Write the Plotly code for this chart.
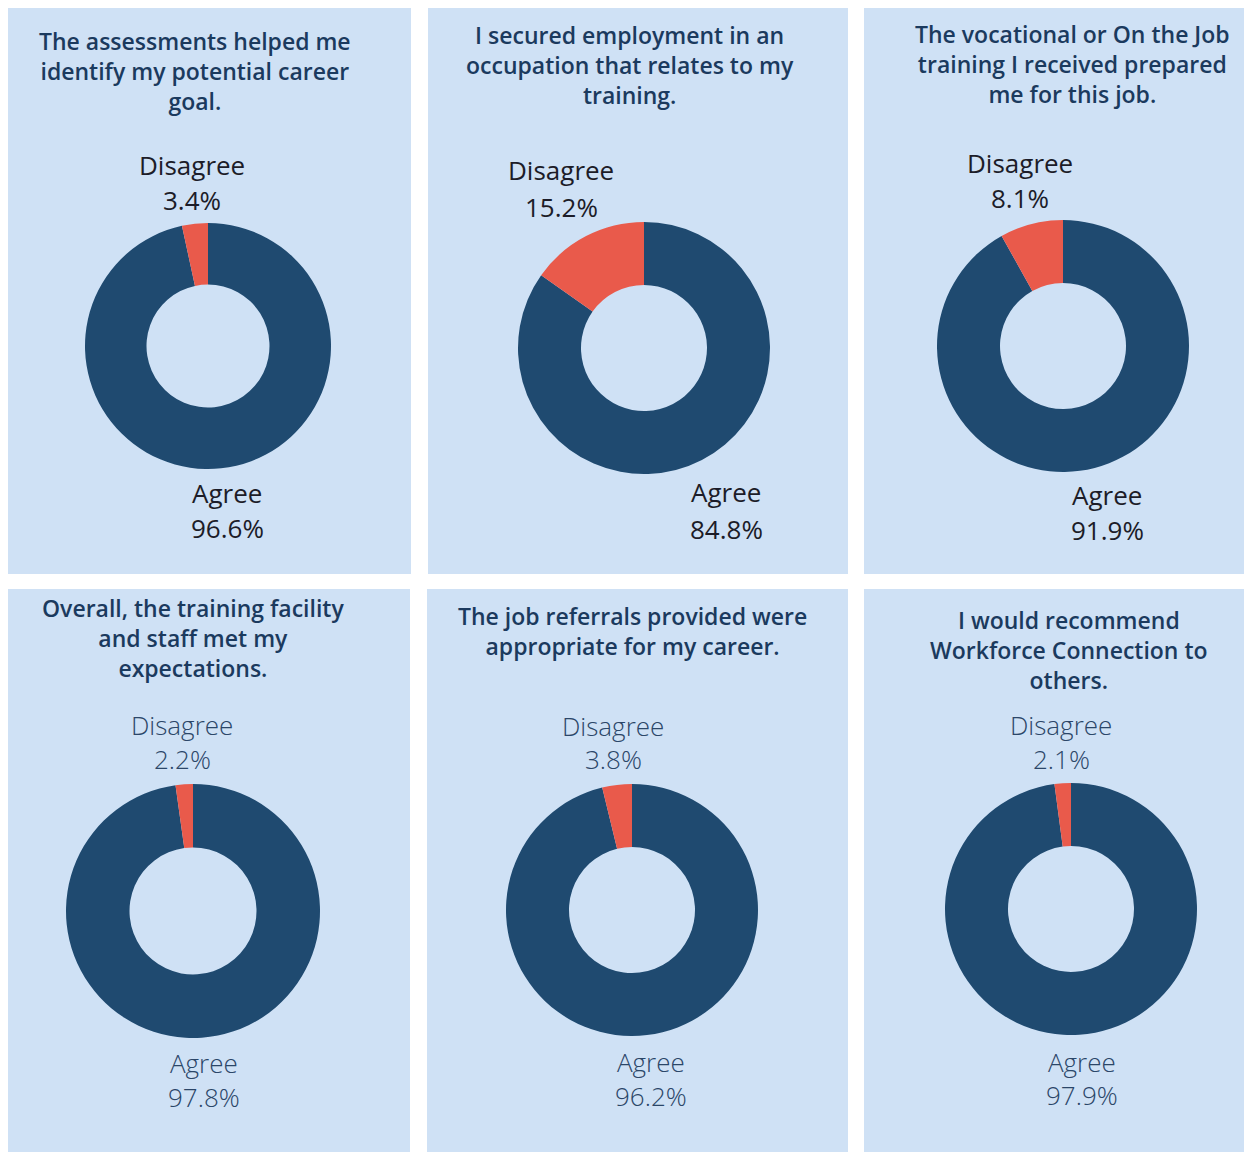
import plotly.graph_objects as go

OFF = 8  # browser body margin
W, H = 1252 - OFF, 1154 - OFF

titles = [
    "The assessments helped me<br>identify my potential career<br>goal.",
    "I secured employment in an<br>occupation that relates to my<br>training.",
    "The vocational or On the Job<br>training I received prepared<br>me for this job.",
    "Overall, the training facility<br>and staff met my<br>expectations.",
    "The job referrals provided were<br>appropriate for my career.",
    "I would recommend<br>Workforce Connection to<br>others.",
]
categories = ["Agree", "Disagree"]
agree_pct = [96.6, 84.8, 91.9, 97.8, 96.2, 97.9]
disagree_pct = [3.4, 15.2, 8.1, 2.2, 3.8, 2.1]

# layout geometry (reference pixels)
panels = [(8, 7, 411, 574), (428, 7, 848, 574), (864, 7, 1250, 574),
          (8, 589, 410, 1152), (427, 589, 848, 1152), (864, 589, 1250, 1152)]
centers = [(208, 346, 123), (644, 348, 126), (1063, 346, 126),
           (193, 911, 127), (632, 910, 126), (1071, 909, 126)]
title_pos = [(195, 71), (630, 65), (1072, 64), (193, 638), (632, 631), (1069, 650)]
# (x, label_y, value_y) for Disagree and Agree labels
dis_lab = [(192, 165, 200), (561, 170, 207), (1020, 163, 198),
           (182, 725, 759), (613, 726, 759), (1061, 725, 759)]
agr_lab = [(227, 493, 528), (726, 492, 529), (1107, 495, 530),
           (204, 1063, 1097), (651, 1062, 1096), (1082, 1062, 1095)]

NAVY = "#1f4a70"
RED = "#e95a4b"
BG = "#cfe1f5"
TITLE_C = "#1b3a5e"
FONT = "Open Sans, Lato, sans-serif"


def px(x):
    return (x - OFF) / W


def py(y):
    return 1 - (y - OFF) / H


fig = go.Figure()
shapes = []
annotations = []


def ann(text, x, y, size, color, weight=None):
    f = dict(family=FONT, size=size, color=color)
    if weight:
        f["weight"] = weight
    annotations.append(dict(text=text, xref="paper", yref="paper", x=px(x), y=py(y),
                            xanchor="center", yanchor="middle", showarrow=False,
                            align="center", font=f))


for i in range(6):
    x0, y0, x1, y1 = panels[i]
    shapes.append(dict(type="rect", xref="paper", yref="paper",
                       x0=px(x0), x1=px(x1), y0=py(y1), y1=py(y0),
                       fillcolor=BG, line=dict(width=0), layer="below"))
    cx, cy, r = centers[i]
    vals = [agree_pct[i], disagree_pct[i]]
    fig.add_trace(go.Pie(
        labels=categories, values=vals,
        hole=0.5, sort=False, direction="clockwise", rotation=0,
        marker=dict(colors=[NAVY, RED], line=dict(width=0)),
        textinfo="none", showlegend=False,
        domain=dict(x=[px(cx - r), px(cx + r)], y=[py(cy + r), py(cy - r)]),
    ))
    top = i < 3
    lab_c = "#1c1c28" if top else "#2b4668"
    lw = 400 if top else 300
    tx, ty = title_pos[i]
    ann(titles[i], tx, ty, 23, TITLE_C, 600)
    dx, dy1, dy2 = dis_lab[i]
    ann(categories[1], dx, dy1, 26, lab_c, lw)
    ann(f"{disagree_pct[i]:.1f}%", dx, dy2, 26, lab_c, lw)
    ax, ay1, ay2 = agr_lab[i]
    ann(categories[0], ax, ay1, 26, lab_c, lw)
    ann(f"{agree_pct[i]:.1f}%", ax, ay2, 26, lab_c, lw)

fig.update_layout(width=W, height=H, margin=dict(l=0, r=0, t=0, b=0),
                  paper_bgcolor="white", plot_bgcolor="white",
                  shapes=shapes, annotations=annotations)
fig.write_html("out.html")
